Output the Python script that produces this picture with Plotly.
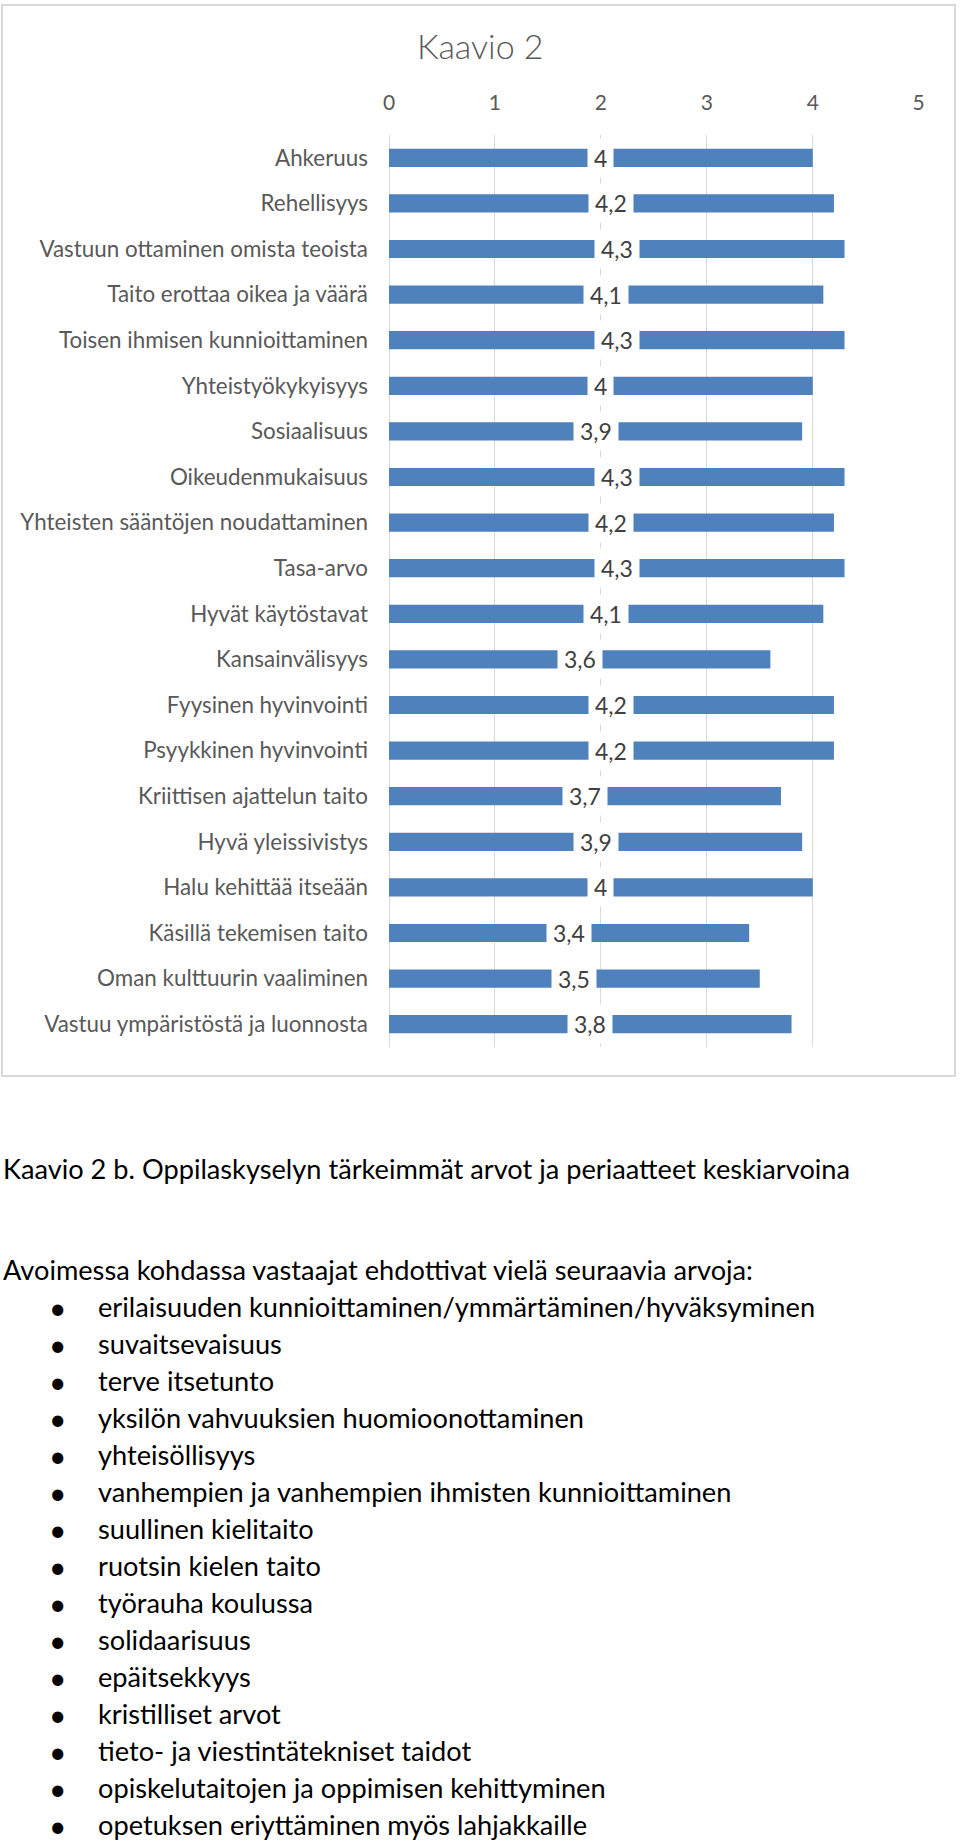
import plotly.graph_objects as go

categories = [
    "Ahkeruus", "Rehellisyys", "Vastuun ottaminen omista teoista",
    "Taito erottaa oikea ja väärä", "Toisen ihmisen kunnioittaminen",
    "Yhteistyökykyisyys", "Sosiaalisuus", "Oikeudenmukaisuus",
    "Yhteisten sääntöjen noudattaminen", "Tasa-arvo", "Hyvät käytöstavat",
    "Kansainvälisyys", "Fyysinen hyvinvointi", "Psyykkinen hyvinvointi",
    "Kriittisen ajattelun taito", "Hyvä yleissivistys", "Halu kehittää itseään",
    "Käsillä tekemisen taito", "Oman kulttuurin vaaliminen",
    "Vastuu ympäristöstä ja luonnosta",
]
values = [4.0, 4.2, 4.3, 4.1, 4.3, 4.0, 3.9, 4.3, 4.2, 4.3, 4.1, 3.6,
          4.2, 4.2, 3.7, 3.9, 4.0, 3.4, 3.5, 3.8]
x_ticks = [0, 1, 2, 3, 4, 5]

chart_title = "Kaavio 2"
caption = "Kaavio 2 b. Oppilaskyselyn tärkeimmät arvot ja periaatteet keskiarvoina"
intro = "Avoimessa kohdassa vastaajat ehdottivat vielä seuraavia arvoja:"
bullets = [
    "erilaisuuden kunnioittaminen/ymmärtäminen/hyväksyminen",
    "suvaitsevaisuus",
    "terve itsetunto",
    "yksilön vahvuuksien huomioonottaminen",
    "yhteisöllisyys",
    "vanhempien ja vanhempien ihmisten kunnioittaminen",
    "suullinen kielitaito",
    "ruotsin kielen taito",
    "työrauha koulussa",
    "solidaarisuus",
    "epäitsekkyys",
    "kristilliset arvot",
    "tieto- ja viestintätekniset taidot",
    "opiskelutaitojen ja oppimisen kehittyminen",
    "opetuksen eriyttäminen myös lahjakkaille",
]

W, H = 960, 1844
FONT = "Lato, Carlito, 'Open Sans', sans-serif"
BAR = "#4F81BD"
GRID = "#D9D9D9"
GRAY = "#595959"
TEXT_SIZE = 27.2


def fmt(v):
    s = f"{v:.1f}".rstrip("0").rstrip(".")
    return s.replace(".", ",")


fig = go.Figure()
fig.add_trace(go.Bar(
    x=values, y=categories, orientation="h",
    marker=dict(color=BAR, line=dict(width=0)),
    hoverinfo="skip", showlegend=False,
))

annotations = []
# data labels with white box, centred on bar
for c, v in zip(categories, values):
    annotations.append(dict(
        x=v / 2, y=c, xref="x", yref="y", text=fmt(v), showarrow=False,
        font=dict(family=FONT, size=23, color="#404040"),
        bgcolor="white", borderpad=6, height=26,
        xanchor="center", yanchor="middle",
    ))

# chart title
annotations.append(dict(
    x=480 / W, y=1 - 45 / H, xref="paper", yref="paper", text=chart_title,
    showarrow=False, font=dict(family=FONT, size=34, color=GRAY, weight=300),
    xanchor="center", yanchor="middle",
))

# text below chart
annotations.append(dict(
    x=1 / W, y=1 - 1168 / H, xref="paper", yref="paper", text=caption,
    showarrow=False, font=dict(family=FONT, size=TEXT_SIZE, color="black"),
    xanchor="left", yanchor="middle",
))
annotations.append(dict(
    x=1 / W, y=1 - 1269 / H, xref="paper", yref="paper", text=intro,
    showarrow=False, font=dict(family=FONT, size=TEXT_SIZE, color="black"),
    xanchor="left", yanchor="middle",
))
for i, b in enumerate(bullets):
    yc = 1307 + i * 37.0
    annotations.append(dict(
        x=57 / W, y=1 - yc / H, xref="paper", yref="paper", text="•",
        showarrow=False, font=dict(family=FONT, size=30, color="black"),
        xanchor="center", yanchor="middle",
    ))
    annotations.append(dict(
        x=96 / W, y=1 - (yc - 1) / H, xref="paper", yref="paper", text=b,
        showarrow=False, font=dict(family=FONT, size=TEXT_SIZE, color="black"),
        xanchor="left", yanchor="middle",
    ))

fig.update_layout(
    width=W, height=H, autosize=False,
    margin=dict(l=0, r=0, t=0, b=0, pad=0, autoexpand=False),
    paper_bgcolor="white", plot_bgcolor="white",
    bargap=0.6,
    showlegend=False,
    font=dict(family=FONT, color=GRAY),
    xaxis=dict(
        domain=[389 / W, 919 / W], range=[0, 5.003], side="top",
        tickmode="array", tickvals=x_ticks, ticktext=[str(t) for t in x_ticks],
        showgrid=True, gridcolor=GRID, gridwidth=1,
        zeroline=True, zerolinecolor=GRID, zerolinewidth=1,
        showline=False, ticks="", ticklabelstandoff=20, automargin=False,
        tickfont=dict(family=FONT, size=21, color=GRAY),
        fixedrange=True,
    ),
    yaxis=dict(
        domain=[1 - 1047 / H, 1 - 135 / H], autorange="reversed",
        showgrid=False, zeroline=False, showline=False, ticks="",
        ticklabelstandoff=20, automargin=False,
        tickfont=dict(family=FONT, size=22.4, color=GRAY),
        fixedrange=True,
    ),
    annotations=annotations,
    shapes=[dict(
        type="rect", xref="paper", yref="paper",
        x0=2 / W, x1=955 / W, y0=1 - 1076 / H, y1=1 - 5 / H,
        line=dict(color=GRID, width=2), fillcolor="rgba(0,0,0,0)", layer="below",
    )],
)

fig.write_html(
    "out.html",
    config={"displayModeBar": False, "responsive": False},
    post_script=(
        "document.documentElement.style.margin='0';"
        "document.documentElement.style.padding='0';"
        "document.documentElement.style.overflow='hidden';"
        "document.body.style.margin='0';"
        "document.body.style.padding='0';"
        "document.body.style.overflow='hidden';"
    ),
)
